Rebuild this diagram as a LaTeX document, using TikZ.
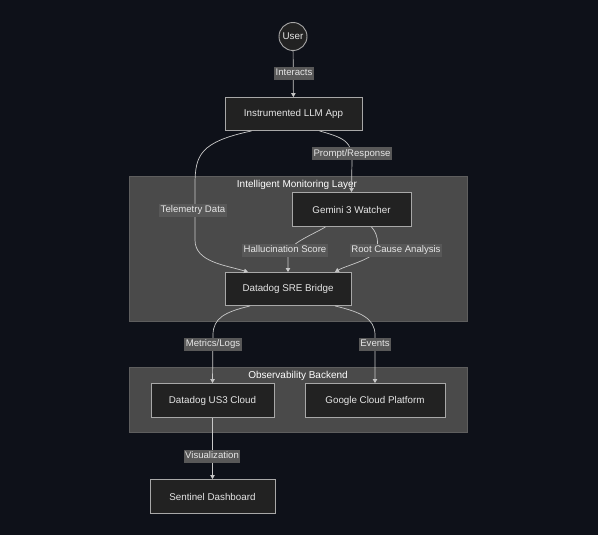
\documentclass[tikz,border=0pt]{standalone}
\usepackage{fontspec}
\setmainfont{Liberation Sans}
\usetikzlibrary{calc,arrows.meta}
\definecolor{bg}{HTML}{0E1119}
\definecolor{nodefill}{HTML}{222222}
\definecolor{nodeline}{HTML}{A8A8A8}
\definecolor{clusterfill}{HTML}{4A4A4A}
\definecolor{clusterline}{HTML}{5E5E5E}
\definecolor{labelfill}{HTML}{585858}
\definecolor{txt}{HTML}{E6E6E6}
\definecolor{edge}{HTML}{C8C8C8}
\tikzset{
  box/.style={draw=nodeline, fill=nodefill, line width=0.9pt, text=txt, font=\fontsize{9.8}{11}\selectfont, inner sep=0pt},
  elabel/.style={fill=labelfill, text=txt, font=\fontsize{9.6}{11}\selectfont, inner xsep=1.5pt, inner ysep=1.8pt, text height=7.2pt, text depth=2.2pt},
  cluster/.style={draw=clusterline, fill=clusterfill, line width=0.8pt},
  ctitle/.style={text=white, font=\fontsize{10}{11}\selectfont, inner sep=0pt},
  conn/.style={draw=edge, line width=0.7pt, -{Triangle[length=4pt,width=4.5pt]}},
}
\begin{document}
\begin{tikzpicture}[x=1pt,y=-1pt]
\fill[bg] (0,0) rectangle (598,535);
\useasboundingbox (0,0) rectangle (598,535);
% clusters
\draw[cluster] (129,176) rectangle (467,321);
\node[ctitle] (t1) at (297,185) {Intelligent Monitoring Layer};
\draw[cluster] (129,367) rectangle (467,432);
\node[ctitle] (t2) at (298,376) {Observability Backend};
% nodes
\node[box, circle, minimum size=28pt] (user) at (293,36.5) {User};
\node[box, minimum width=137pt, minimum height=33pt] (llm) at (293.5,114) {Instrumented LLM App};
\node[box, minimum width=119pt, minimum height=34pt] (gem) at (351.5,209.5) {Gemini 3 Watcher};
\node[box, minimum width=126pt, minimum height=33pt] (sre) at (288,289) {Datadog SRE Bridge};
\node[box, minimum width=123pt, minimum height=34pt] (dd) at (212.5,400.5) {Datadog US3 Cloud};
\node[box, minimum width=140pt, minimum height=34pt] (gcp) at (375,400.5) {Google Cloud Platform};
\node[box, minimum width=125pt, minimum height=34pt] (sen) at (212.5,496.5) {Sentinel Dashboard};
% edges
\draw[conn] (user) -- (llm);
\draw[conn] ($(llm.south)+(-42,0)$) .. controls (200,142) and (195,155) .. (195,185) -- (195,240) .. controls (195,262) and (225,265) .. ($(sre.north)+(-40,0)$);
\draw[conn] ($(llm.south)+(26,0)$) .. controls (345,138) and (352,142) .. (352,160) -- (gem.north);
\draw[conn] ($(gem.south)+(-26,0)$) .. controls (310,236) and (288,244) .. (288,255) -- (sre.north);
\draw[conn] ($(gem.south)+(20,0)$) .. controls (380,236) and (378,250) .. (375,252) .. controls (370,260) and (345,266) .. ($(sre.north)+(47,0)$);
\draw[conn] ($(sre.south)+(-38,0)$) .. controls (225,312) and (213,318) .. (213,335) -- (dd.north);
\draw[conn] ($(sre.south)+(47,0)$) .. controls (360,312) and (375,318) .. (375,335) -- (gcp.north);
\draw[conn] (dd) -- (sen);
% edge labels
\node[elabel] (l1) at (294,73.5) {Interacts};
\node[elabel] (l2) at (352,154) {Prompt/Response};
\node[elabel] (l3) at (193,210) {Telemetry Data};
\node[elabel] (l4) at (285,250) {Hallucination Score};
\node[elabel] (l5) at (396,250) {Root Cause Analysis};
\node[elabel] (l6) at (213,344) {Metrics/Logs};
\node[elabel] (l7) at (375,344) {Events};
\node[elabel] (l8) at (212,456) {Visualization};
\end{tikzpicture}
\end{document}
